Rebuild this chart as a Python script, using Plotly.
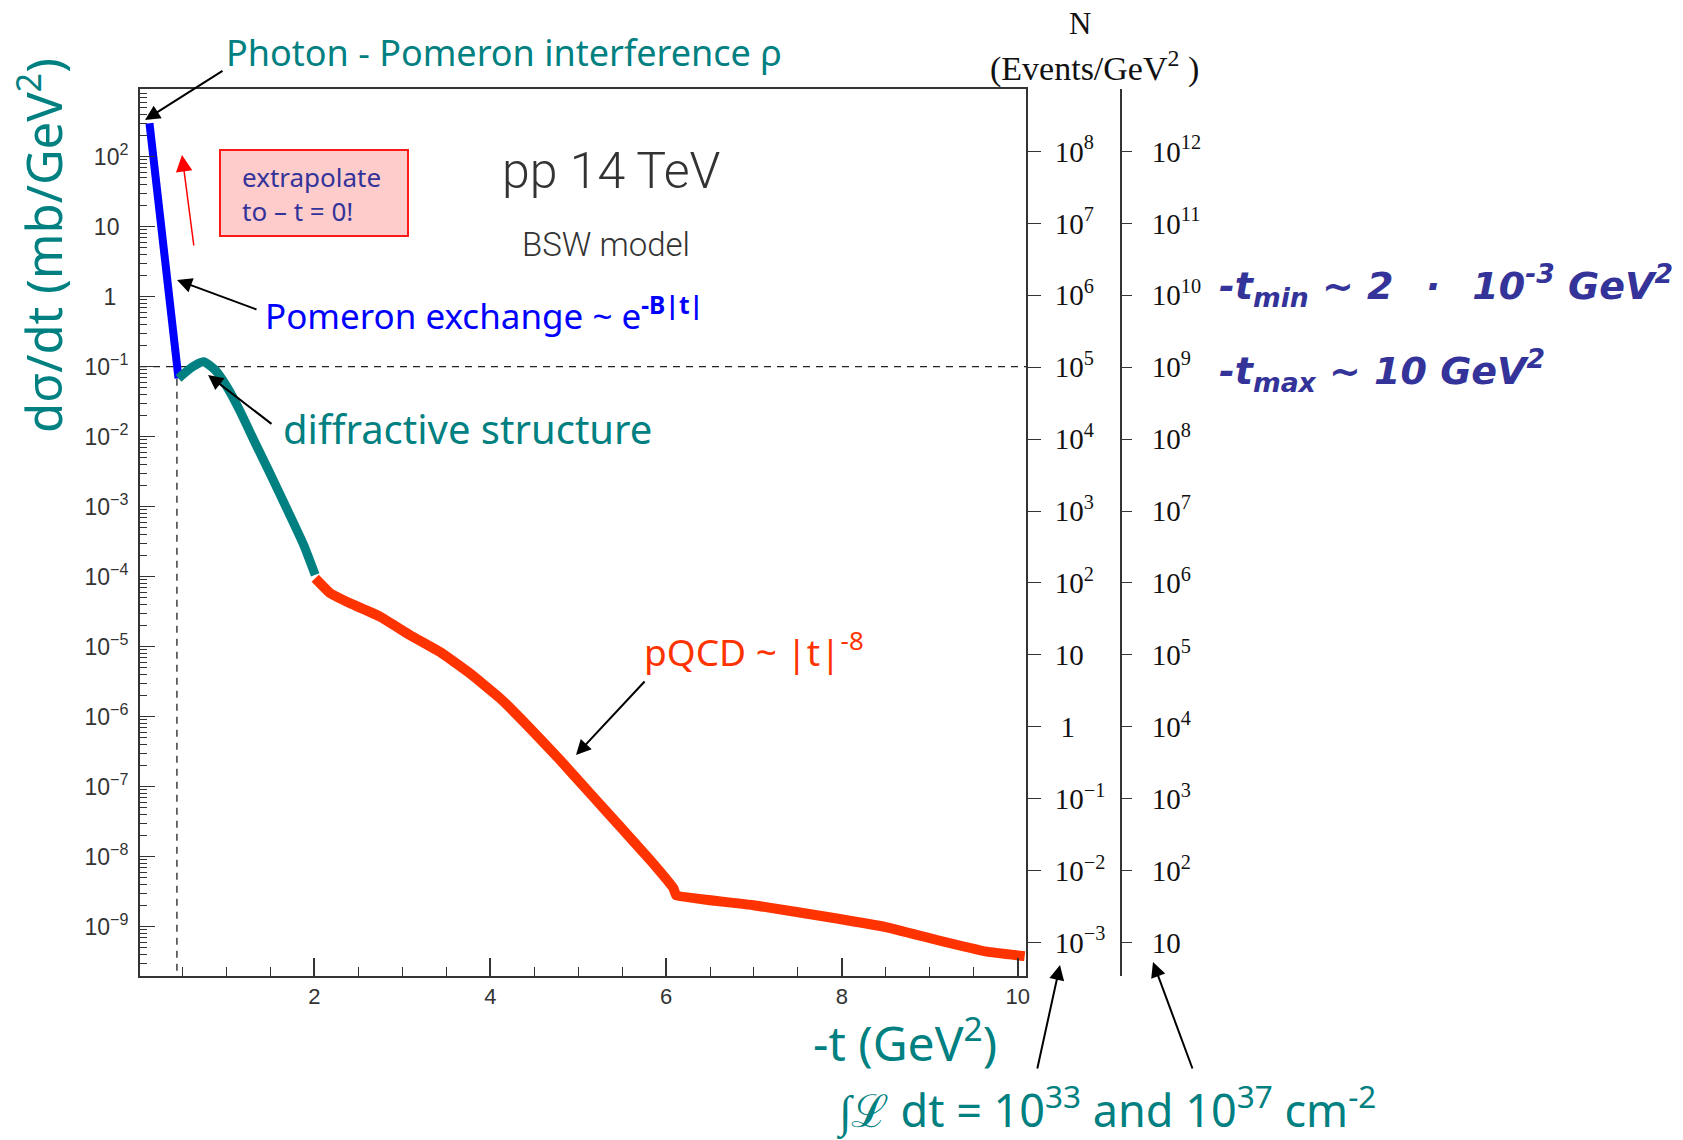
import plotly.graph_objects as go

# ---- model curve: -t (GeV^2) vs dsigma/dt (mb/GeV^2), pp at 14 TeV (BSW model) ----
t_pomeron = [0.123, 0.207, 0.332, 0.453]
dsdt_pomeron = [300, 33.4, 1.25, 0.0682]

t_diffractive = [0.453, 0.605, 0.737, 0.870, 1.003, 1.155, 1.306, 1.496, 1.686, 1.875, 2.008]
dsdt_diffractive = [0.0682, 0.098, 0.118, 0.0897, 0.0518, 0.0229, 0.00912, 0.00295,
                    9.3e-4, 2.88e-4, 1.06e-4]

t_pqcd = [2.008, 2.179, 2.406, 2.747, 3.089, 3.430, 3.771, 4.113, 4.454, 4.795, 5.137,
          5.478, 5.819, 6.084, 6.115, 6.994, 7.943, 8.512, 9.081, 9.650, 10.08]
dsdt_pqcd = [9.5e-5, 5.8e-5, 4.17e-5, 2.69e-5, 1.46e-5, 8.4e-6, 4.14e-6, 1.83e-6, 6.8e-7,
             2.40e-7, 8.0e-8, 2.69e-8, 8.97e-9, 3.54e-9, 2.82e-9, 2.03e-9, 1.31e-9,
             9.8e-10, 6.46e-10, 4.40e-10, 3.80e-10]

# reference levels drawn as dashed guides
dsdt_guide = 0.1
t_guide = 0.435

# axis ticks
x_ticks = [2, 4, 6, 8, 10]
left_exponents = [2, 1, 0, -1, -2, -3, -4, -5, -6, -7, -8, -9]
events_low_exponents = [8, 7, 6, 5, 4, 3, 2, 1, 0, -1, -2, -3]      # 10^33 cm^-2
events_high_exponents = [12, 11, 10, 9, 8, 7, 6, 5, 4, 3, 2, 1]     # 10^37 cm^-2


def power_label(e, pad_one=False, pad_plain=False):
    if e == 0:
        if pad_one:
            return "\u20091"
        return "1<sup>\u2007\u2009</sup>" if pad_plain else "1"
    if e == 1:
        return "10<sup>\u2007</sup>" if pad_plain else "10"
    return "10<sup>" + str(e).replace("-", "\u2212") + "</sup>"


# ---- page geometry (pixels) ----
W, H = 1683, 1140
LEFT, TOP = 140, 89
PLOT_RIGHT, PLOT_BOTTOM = 1026, 976
PAPER_RIGHT = 1135


def px(x):
    return (x - LEFT) / (PAPER_RIGHT - LEFT)


def py(y):
    return (PLOT_BOTTOM - y) / (PLOT_BOTTOM - TOP)


TEAL = "#008080"
BLUE = "#0000ff"
RED = "#ff3300"
INDIGO = "#333399"
AXIS = "#333333"
COMIC = "Noto Sans"
WIDE = "DejaVu Sans"
ROOTFONT = "Liberation Sans"
SERIF = "Liberation Serif"

X_RANGE = [0.015, 10.095]

fig = go.Figure()

# dashed guides
fig.add_trace(go.Scatter(x=X_RANGE, y=[dsdt_guide, dsdt_guide], mode="lines",
                         line=dict(color="#222222", width=1.3, dash="7px,6px"),
                         hoverinfo="skip", showlegend=False))
fig.add_trace(go.Scatter(x=[t_guide, t_guide], y=[1e-10, dsdt_pomeron[-1]], mode="lines",
                         line=dict(color="#222222", width=1.3, dash="7px,6px"),
                         hoverinfo="skip", showlegend=False))

# the three regions of the curve
fig.add_trace(go.Scatter(x=t_pomeron, y=dsdt_pomeron, mode="lines",
                         line=dict(color=BLUE, width=8), showlegend=False))
fig.add_trace(go.Scatter(x=t_diffractive, y=dsdt_diffractive, mode="lines",
                         line=dict(color=TEAL, width=9, shape="spline", smoothing=0.6),
                         showlegend=False))
fig.add_trace(go.Scatter(x=t_pqcd, y=dsdt_pqcd, mode="lines",
                         line=dict(color=RED, width=10, shape="spline", smoothing=0.3),
                         showlegend=False))

# empty traces so the event-count axes are registered
fig.add_trace(go.Scatter(x=[], y=[], yaxis="y2", showlegend=False))
fig.add_trace(go.Scatter(x=[], y=[], yaxis="y3", showlegend=False))

minor_vals = [k * 10.0 ** e for e in range(-10, 3) for k in range(2, 10)]

fig.update_layout(
    width=W, height=H,
    margin=dict(l=LEFT, r=W - PAPER_RIGHT, t=TOP, b=H - PLOT_BOTTOM),
    paper_bgcolor="white", plot_bgcolor="white",
    showlegend=False,
    xaxis=dict(
        domain=[0, px(PLOT_RIGHT)], range=X_RANGE,
        showline=True, linecolor=AXIS, linewidth=2, mirror=True,
        showgrid=False, zeroline=False,
        ticks="inside", tickvals=x_ticks, ticktext=[str(v) for v in x_ticks],
        ticklen=18, tickwidth=1.5, tickcolor=AXIS,
        minor=dict(ticks="inside", ticklen=9, tickwidth=1.2, tickcolor=AXIS,
                   dtick=0.5, tick0=0),
        tickfont=dict(family=ROOTFONT, size=22, color="#333333"),
        ticklabelstandoff=0,
    ),
    yaxis=dict(
        type="log", range=[-9.704, 2.967],
        showline=True, linecolor=AXIS, linewidth=2,
        showgrid=False, zeroline=False,
        ticks="inside", ticklen=15, tickwidth=1.3, tickcolor=AXIS,
        tickvals=[10.0 ** e for e in left_exponents],
        ticktext=[power_label(e, pad_plain=True) for e in left_exponents],
        minor=dict(ticks="inside", ticklen=7, tickwidth=1.1, tickcolor=AXIS,
                   tickvals=minor_vals),
        tickfont=dict(family=ROOTFONT, size=23, color="#333333"),
        ticklabelstandoff=5,
    ),
    yaxis2=dict(
        type="log", range=[-3.467, 8.869], overlaying="y", side="right", anchor="x",
        showline=True, linecolor=AXIS, linewidth=2,
        showgrid=False, zeroline=False,
        ticks="outside", ticklen=13, tickwidth=1.3, tickcolor=AXIS,
        tickvals=[10.0 ** e for e in events_low_exponents],
        ticktext=[power_label(e, pad_one=True) for e in events_low_exponents],
        tickfont=dict(family=SERIF, size=29, color="#111111"),
        ticklabelstandoff=8,
    ),
    yaxis3=dict(
        type="log", range=[0.533, 12.869], overlaying="y", side="right",
        anchor="free", position=px(1121),
        showline=True, linecolor=AXIS, linewidth=2,
        showgrid=False, zeroline=False,
        ticks="outside", ticklen=10, tickwidth=1.3, tickcolor=AXIS,
        tickvals=[10.0 ** e for e in events_high_exponents],
        ticktext=[power_label(e) for e in events_high_exponents],
        tickfont=dict(family=SERIF, size=29, color="#111111"),
        ticklabelstandoff=14,
    ),
)

# "extrapolate" box
fig.add_shape(type="rect", xref="paper", yref="paper",
              x0=px(220), x1=px(408), y0=py(236), y1=py(150),
              fillcolor="#ffcccc", line=dict(color="#ff1a1a", width=2), layer="above")


def note(text, x, y, size, color, family=COMIC, xanchor="left", **kw):
    font = dict(family=family, size=size, color=color)
    font.update(kw.pop("font_extra", {}))
    fig.add_annotation(text=text, x=px(x), y=py(y), xref="paper", yref="paper",
                       xanchor=xanchor, yanchor="middle", showarrow=False,
                       font=font, **kw)


def arrow(head, tail, color="black", width=2, size=1.5):
    fig.add_annotation(text="", x=px(head[0]), y=py(head[1]), xref="paper", yref="paper",
                       ax=tail[0] - head[0], ay=tail[1] - head[1],
                       showarrow=True, arrowhead=2, arrowsize=size,
                       arrowwidth=width, arrowcolor=color, standoff=0)


note("Photon - Pomeron interference \u03c1", 224, 53, 36, TEAL)
note("pp 14 TeV", 611, 171, 50, "#333333", family="Roboto", xanchor="center",
     font_extra=dict(weight=300))
note("BSW model", 606, 245, 33, "#333333", family="Roboto", xanchor="center",
     font_extra=dict(weight=300))
note("extrapolate<br>to \u2013 t = 0!", 240, 194, 26, INDIGO, align="left")
note("Pomeron exchange ~ e<sup><b>-B|t|</b></sup>", 263, 313, 35, BLUE)
note("diffractive structure", 281, 428, 40, TEAL)
note("pQCD ~ |t|<sup>-8</sup>", 642, 649, 37, RED)
note("-t (GeV<sup>2</sup>)", 905, 1040, 48, TEAL, xanchor="center")
note("\u222b\u2112 dt = 10<sup>33</sup> and 10<sup>37</sup> cm<sup>-2</sup>", 834, 1107, 45, TEAL)
note("-t<sub>min</sub> ~ 2 \u2002\u00b7\u2002 10<sup>-3</sup> GeV<sup>2</sup>", 1217, 285, 38, INDIGO,
     family=WIDE, font_extra=dict(weight="bold", style="italic"))
note("-t<sub>max</sub> ~ 10 GeV<sup>2</sup>", 1217, 370, 38, INDIGO,
     family=WIDE, font_extra=dict(weight="bold", style="italic"))
note("N", 1080, 23, 31, "#111111", family=SERIF, xanchor="center")
note("(Events/GeV<sup>2</sup> )", 1094, 67, 34, "#111111", family=SERIF, xanchor="center")
note("d\u03c3/dt (mb/GeV<sup>2</sup>)", 40, 246, 49, TEAL, xanchor="center", textangle=-90)

arrow((145, 120), (224, 70))
arrow((177, 280), (258, 310))
arrow((208, 375), (273, 425))
arrow((576, 755), (646, 680))
arrow((182, 155), (194, 247), color="#ff0000", width=1.5, size=2.2)
arrow((1060, 965), (1037, 1070))
arrow((1153, 962), (1193, 1070))

fig.write_html("out.html")
